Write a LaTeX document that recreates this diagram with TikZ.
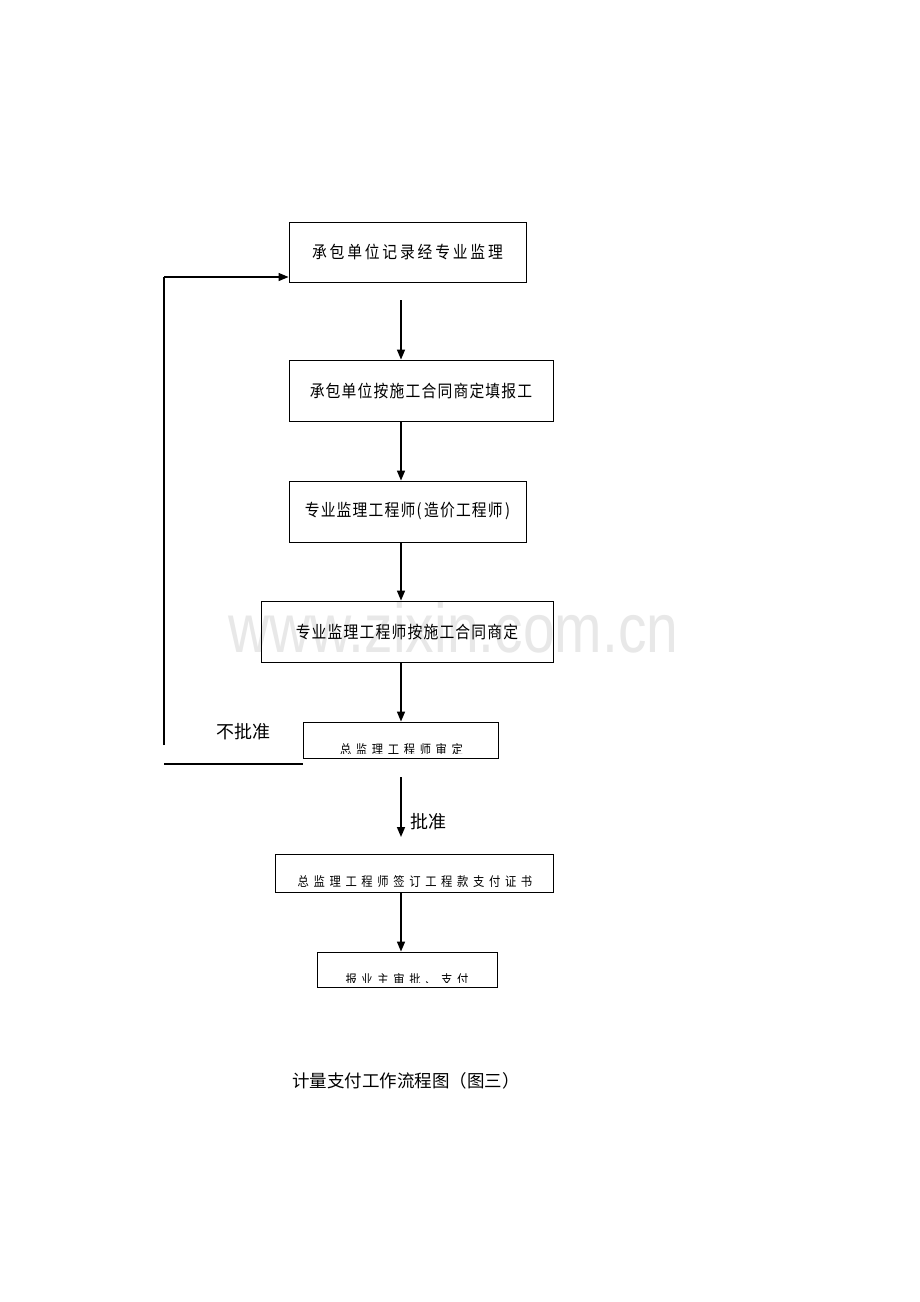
\documentclass[tikz,border=0pt]{standalone}
\usepackage{fontspec}
\setmainfont{Liberation Sans}
\newfontfamily\cjk{Noto Sans CJK SC}
\usetikzlibrary{arrows.meta}
\newcommand{\nar}[1]{\scalebox{0.87}[1]{#1}}
\begin{document}
\begin{tikzpicture}[x=1pt,y=-1pt,
  box/.style={draw,line width=0.9pt,inner sep=0pt},
  btext/.style={font=\cjk\fontsize{17}{20}\selectfont\addfontfeature{LetterSpace=8}},
  btextwide/.style={font=\cjk\fontsize{17}{20}\selectfont\addfontfeature{LetterSpace=19}},
  stext/.style={font=\cjk\fontsize{13}{16}\selectfont\addfontfeature{LetterSpace=41},inner sep=0pt,anchor=base},
  lbl/.style={font=\cjk\fontsize{18}{20}\selectfont,inner sep=0pt},
  captext/.style={font=\cjk\fontsize{17.5}{20}\selectfont,inner sep=0pt},
  arr/.style={line width=1.5pt,-{Triangle[length=10pt,width=8pt]}},
  ln/.style={line width=1.1pt}
]
\useasboundingbox[fill=white] (0,0) rectangle (920,1302);
% watermark
\node[anchor=base,inner sep=0pt,text=black!9,font=\fontsize{69}{69}\selectfont] (wm) at (453.5,652) {\scalebox{0.826}[1]{www.zixin.com.cn}};
% boxes
\node[box,btextwide,minimum width=237pt,minimum height=60pt] (b1) at (407.5,252) {\nar{承包单位记录经专业监理}};
\node[box,btext,minimum width=264pt,minimum height=61pt] (b2) at (421,390.5) {\nar{承包单位按施工合同商定填报工}};
\node[box,btext,minimum width=237pt,minimum height=61pt] (b3) at (407.5,511.5) {\nar{专业监理工程师(\,造价工程师\,)}};
\node[box,btext,minimum width=292pt,minimum height=61pt] (b4) at (407,631.5) {\nar{专业监理工程师按施工合同商定}};
\node[box,minimum width=195pt,minimum height=36pt] (b5) at (400.5,740) {};
\node[box,minimum width=278pt,minimum height=38pt] (b6) at (414,873) {};
\node[box,minimum width=180pt,minimum height=35pt] (b7) at (407,969.5) {};
% clipped box texts
\begin{scope}
  \clip (303,722) rectangle (498,753.5);
  \node[stext] (t5) at (401.5,754) {\nar{总监理工程师审定}};
\end{scope}
\begin{scope}
  \clip (275,854) rectangle (553,886);
  \node[stext] (t6) at (415,886.5) {\nar{总监理工程师签订工程款支付证书}};
\end{scope}
\begin{scope}
  \clip (317,952) rectangle (497,982.5);
  \node[stext] (t7) at (407,984) {\nar{报业主审批、支付}};
\end{scope}
% labels
\node[lbl] (nok) at (243.5,731.5) {不批准};
\node[lbl] (ok) at (428.5,822) {批准};
\node[captext] (capt) at (406,1081) {计量支付工作流程图（图三）};
% coordinates
\coordinate (col) at (401,0);
\coordinate (a1s) at (401,300);
\coordinate (a5s) at (401,777);
\coordinate (a5e) at (401,837);
\coordinate (fb1) at (164,745);
\coordinate (fb2) at (164,277);
\coordinate (rl1) at (164,764);
% connectors
\draw[arr] (a1s) -- (b2.north -| col);
\draw[arr] (b2.south -| col) -- (b3.north -| col);
\draw[arr] (b3.south -| col) -- (b4.north -| col);
\draw[arr] (b4.south -| col) -- (b5.north -| col);
\draw[arr] (a5s) -- (a5e);
\draw[arr] (b6.south -| col) -- (b7.north -| col);
\draw[ln] (fb1) -- (fb2);
\draw[arr,line width=1.2pt] (fb2) -- (b1.south west |- fb2);
\draw[ln] (rl1) -- (b5.west |- rl1);
\end{tikzpicture}
\end{document}
